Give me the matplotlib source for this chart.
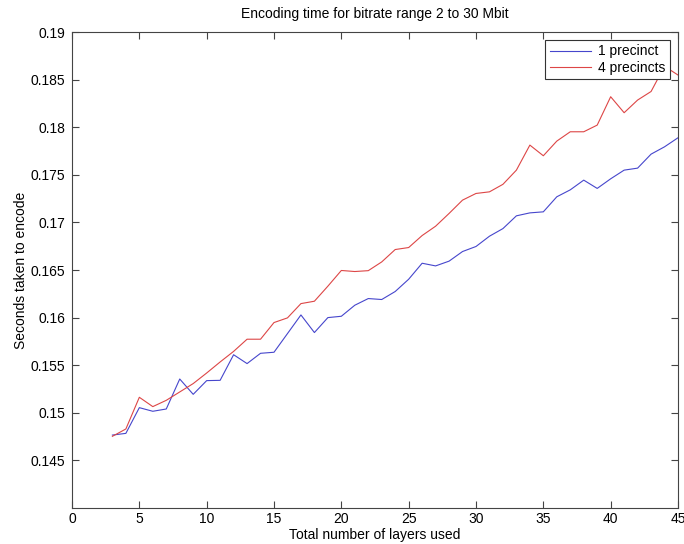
import matplotlib
matplotlib.use("Agg")
import matplotlib.pyplot as plt

plt.rcParams['font.family'] = ['Liberation Sans', 'DejaVu Sans']

layers = list(range(3, 46))
one_precinct = [0.14766, 0.14784, 0.15054, 0.15016, 0.15040, 0.15355, 0.15194, 0.15338,
                0.15341, 0.15610, 0.15517, 0.15625, 0.15636, 0.15832, 0.16028, 0.15843,
                0.16000, 0.16014, 0.16130, 0.16200, 0.16190, 0.16274, 0.16403, 0.16571,
                0.16543, 0.16593, 0.16694, 0.16747, 0.16855, 0.16935, 0.17069, 0.17100,
                0.17111, 0.17269, 0.17342, 0.17444, 0.17357, 0.17458, 0.17549, 0.17570,
                0.17717, 0.17794, 0.17889]
four_precincts = [0.14753, 0.14830, 0.15163, 0.15065, 0.15131, 0.15219, 0.15307, 0.15418,
                  0.15534, 0.15645, 0.15773, 0.15773, 0.15948, 0.15997, 0.16147, 0.16172,
                  0.16330, 0.16495, 0.16484, 0.16493, 0.16585, 0.16715, 0.16736, 0.16862,
                  0.16960, 0.17094, 0.17234, 0.17304, 0.17321, 0.17400, 0.17549, 0.17812,
                  0.17700, 0.17854, 0.17952, 0.17952, 0.18022, 0.18320, 0.18152, 0.18285,
                  0.18375, 0.18640, 0.18548]
series_labels = ['1 precinct', '4 precincts']
xticks = [0, 5, 10, 15, 20, 25, 30, 35, 40, 45]
yticks = [0.145, 0.15, 0.155, 0.16, 0.165, 0.17, 0.175, 0.18, 0.185, 0.19]
ytick_labels = ['0.145', '0.15', '0.155', '0.16', '0.165', '0.17', '0.175', '0.18', '0.185', '0.19']

fig = plt.figure(figsize=(6.84, 5.44), dpi=100)
ax = fig.add_axes([72/684, 1-508/544, (678-72)/684, (508-32)/544])

ax.plot(layers, one_precinct, color='#4646cc', lw=0.8, label=series_labels[0])
ax.plot(layers, four_precincts, color='#dd4646', lw=0.8, label=series_labels[1])

ax.set_xlim(0, 45)
ax.set_ylim(0.14, 0.19)
ax.set_xticks(xticks)
ax.set_xticklabels([str(t) for t in xticks])
ax.set_yticks(yticks)
ax.set_yticklabels(ytick_labels)
ax.tick_params(direction='in', top=True, right=True, length=5, width=0.8,
               labelsize=10, color='#444444')
ax.tick_params(axis='x', pad=3)
ax.tick_params(axis='y', pad=5)
for s in ax.spines.values():
    s.set_color('#444444')
    s.set_linewidth(0.8)

ax.set_title('Encoding time for bitrate range 2 to 30 Mbit', fontsize=10, pad=10)
ax.set_xlabel('Total number of layers used', fontsize=10, labelpad=1)
ax.set_ylabel('Seconds taken to encode', fontsize=10, labelpad=2)

leg = ax.legend(loc='upper right', fontsize=10, fancybox=False, framealpha=1,
                edgecolor='#333333', borderpad=0.35, labelspacing=0.15,
                handlelength=3.0, handletextpad=0.5, borderaxespad=0.55)
leg.get_frame().set_linewidth(0.8)

fig.savefig('out.png', dpi=100)
